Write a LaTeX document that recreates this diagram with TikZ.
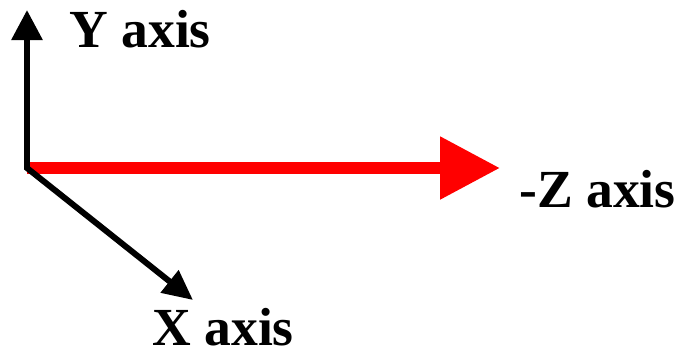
\documentclass[tikz,border=0pt]{standalone}
\usepackage{fontspec}
\setmainfont{Liberation Serif}
\usetikzlibrary{arrows.meta}

\begin{document}
\begin{tikzpicture}[x=0.02cm, y=-0.02cm,
    axislabel/.style={anchor=base west, inner sep=0pt, text depth=0pt, font=\fontsize{30.5}{30.5}\selectfont\bfseries}]
    \useasboundingbox (0,0) rectangle (683,356);
    \coordinate (o)    at ( 27,168);
    \coordinate (ytip) at ( 27, 10);
    \coordinate (ztip) at (500,168);
    \coordinate (xtip) at (193,300);
    \node[axislabel] (ylabel) at ( 69, 47) {Y axis};
    \node[axislabel] (zlabel) at (519,207) {-Z axis};
    \node[axislabel] (xlabel) at (152,345) {X axis};
    % red axis first, the black ones go over its end
    \draw[red, line width=6.8pt, -{Triangle[length=1.2cm, width=1.2cm]}] (o) -- (ztip);
    \draw[black, line width=3.4pt, {Triangle[length=0.6cm, width=0.6cm]}-{Triangle[length=0.6cm, width=0.55cm]}] (ytip) -- (o) -- (xtip);
\end{tikzpicture}
\end{document}
